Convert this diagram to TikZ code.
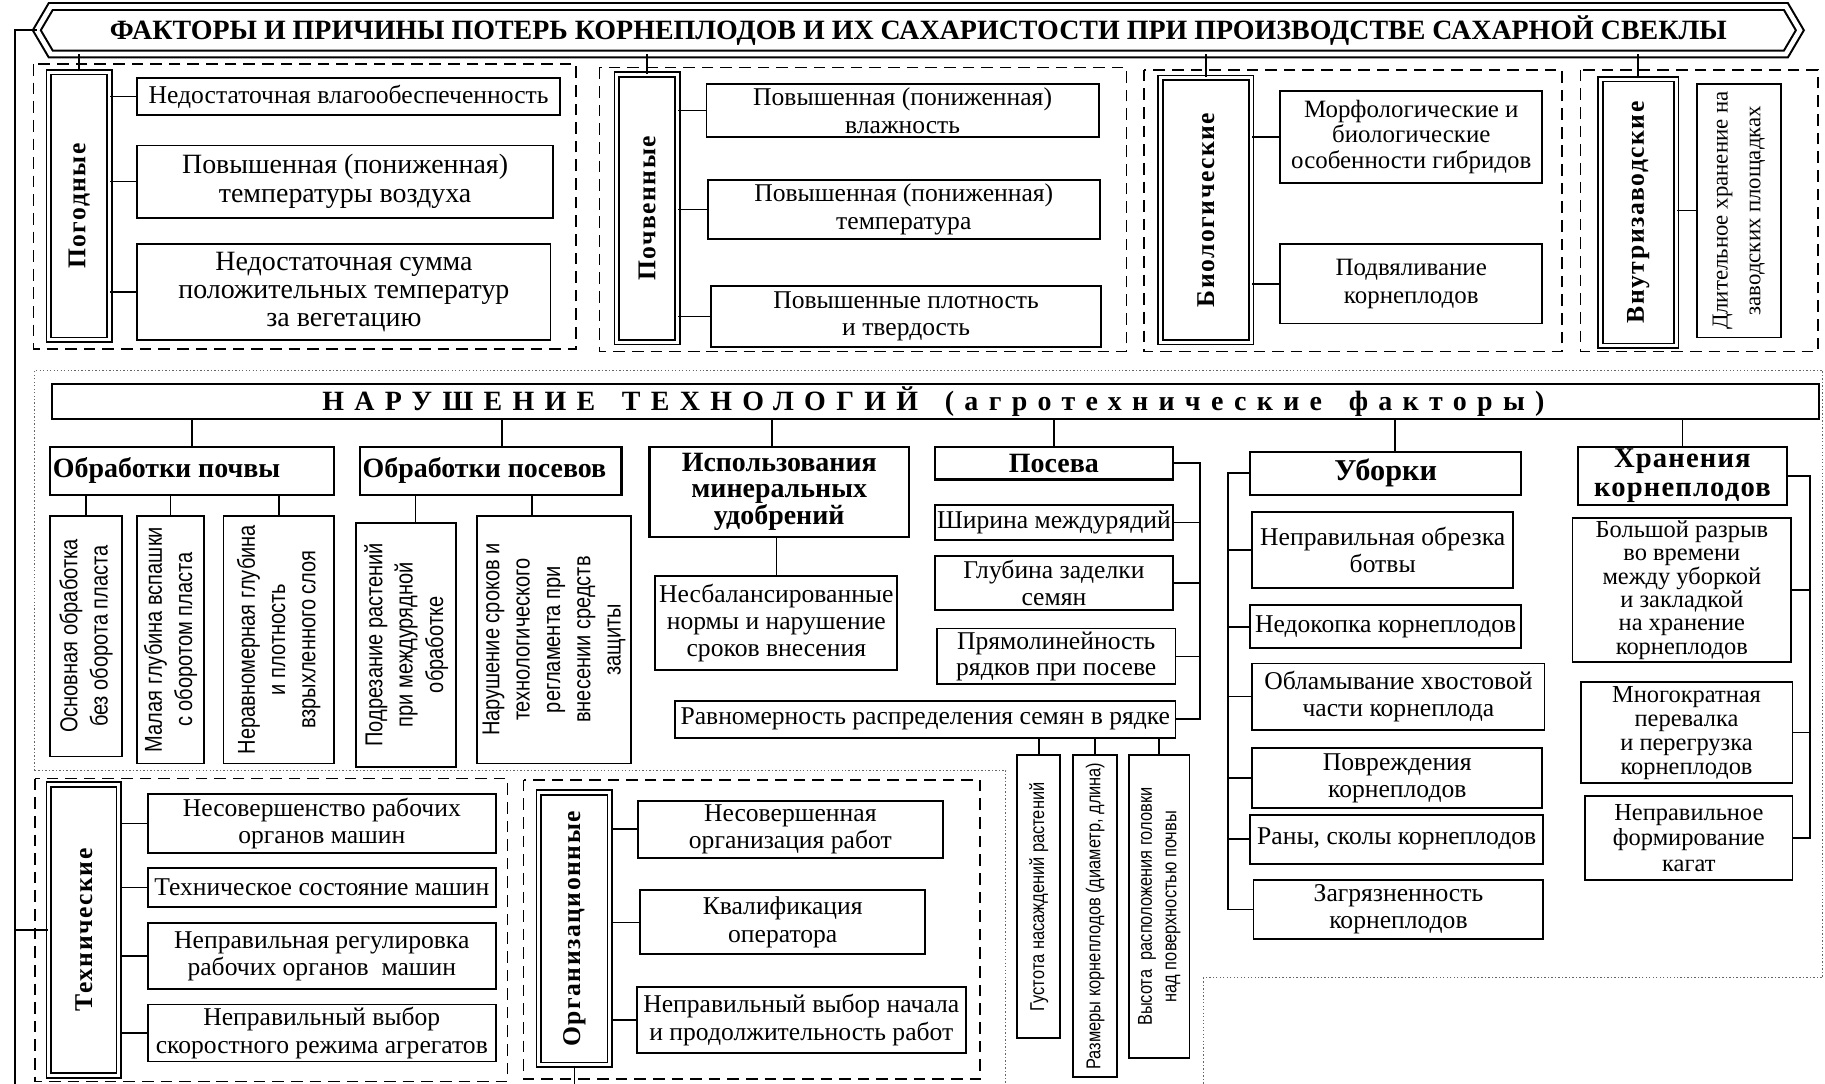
\documentclass[tikz,border=0pt]{standalone}
\usepackage{fontspec}
\setmainfont{Liberation Serif}
\newfontfamily\nsans[FakeStretch=0.82]{Liberation Sans}
\usetikzlibrary{fit}
\newcommand\fsz[2]{\fontsize{#1}{#2}\selectfont}
% box with centred text: name, corner1, corner2, text style, text
\newcommand\bx[5]{\node[box, fit={(#2) (#3)}] (#1) {};
  \node[txt, #4] (#1t) at (#1.center) {#5};}
\begin{document}
\begin{tikzpicture}[x=0.5pt,y=-0.5pt,
  box/.style={draw, line width=0.8pt, inner sep=0pt},
  txt/.style={inner sep=0pt, align=center, font=\fsz{11}{11.8}},
  lbl/.style={draw, double, double distance=1.3pt, line width=0.7pt, inner sep=0pt},
  vlbl/.style={rotate=90, inner sep=0pt, font=\bfseries\fsz{11}{12}\addfontfeature{LetterSpace=6}},
  grp/.style={draw, dash pattern=on 5pt off 3pt, line width=0.6pt},
  dotf/.style={draw=black!60, line width=0.5pt, dash pattern=on 0.6pt off 0.9pt},
  conn/.style={line width=0.7pt},
  cat/.style={draw, line width=0.9pt, inner sep=0pt},
  bt/.style={inner sep=0pt, align=center, font=\bfseries\fsz{12}{11.5}},
  rs/.style={rotate=90, align=center, font=\nsans\fsz{10.5}{13}},
  rh/.style={rotate=90, align=center, font=\nsans\fsz{8.6}{10.5}},
  emptyn/.style={inner sep=0pt}
]
\fill[white] (0,0) rectangle (1568,931);
\useasboundingbox (0,0) rectangle (1568,931);

% ---------- title ----------
\node[emptyn, fit={(32,6) (1546,46)}] (title) {};
\draw[double, double distance=2pt, line width=0.9pt]
  (title.west) -- ([xshift=6pt]title.north west) -- ([xshift=-6pt]title.north east)
  -- (title.east) -- ([xshift=-6pt]title.south east) -- ([xshift=6pt]title.south west) -- cycle;
\node[inner sep=0pt, font=\bfseries\fsz{12}{14}] (titlet) at (title.center) {ФАКТОРЫ И ПРИЧИНЫ ПОТЕРЬ КОРНЕПЛОДОВ И ИХ САХАРИСТОСТИ ПРИ ПРОИЗВОДСТВЕ САХАРНОЙ СВЕКЛЫ};

% ---------- top groups ----------
\draw[grp] (29,55) rectangle (495,300);
\draw[grp] (515,58) rectangle (968,302);
\draw[grp] (983,60) rectangle (1342,302);
\draw[grp] (1358,60) rectangle (1562,302);

\node[lbl, fit={(42,62) (94,292)}] (pog) {};
\node[vlbl] (pogt) at (pog) {Погодные};
\node[lbl, fit={(530,64) (582,294)}] (poch) {};
\node[vlbl] (poct) at (poch) {Почвенные};
\node[lbl, fit={(997,67) (1075,294)}] (bio) {};
\node[vlbl] (biot) at (bio) {Биологические};
\node[lbl, fit={(1375,68) (1440,297)}] (vnu) {};
\node[vlbl] (vnut) at (vnu) {Внутризаводские};

\bx{p1}{118,67}{481,99}{}{Недостаточная влагообеспеченность}
\bx{p2}{118,125}{475,187}{font=\fsz{12}{12.3}}{Повышенная (пониженная)\\температуры воздуха}
\bx{p3}{118,210}{473,292}{font=\fsz{12}{12}}{Недостаточная сумма\\положительных температур\\за вегетацию}

\bx{s1}{607,72}{944,118}{}{Повышенная (пониженная)\\влажность}
\bx{s2}{608,155}{945,205}{}{Повышенная (пониженная)\\температура}
\bx{s3}{611,246}{946,298}{}{Повышенные плотность\\и твердость}

\bx{b1}{1100,78}{1325,157}{font=\fsz{10.7}{11}}{Морфологические и\\биологические\\особенности гибридов}
\bx{b2}{1100,210}{1325,278}{font=\fsz{10.7}{12}}{Подвяливание\\корнеплодов}

\node[box, fit={(1458,72) (1530,290)}] (v1) {};
\node[rotate=90, inner sep=0pt, align=center, font=\fsz{9.8}{14}] (v1t) at (v1) {Длительное хранение на\\заводских площадках};

\foreach \n in {pog,poch,bio,vnu} \draw[conn] (\n.north) -- (\n.north |- title.south);
\foreach \n in {p1,p2,p3} \draw[conn] (\n.west) -- (\n.west -| pog.east);
\foreach \n in {s1,s2,s3} \draw[conn] (\n.west) -- (\n.west -| poch.east);
\foreach \n in {b1,b2} \draw[conn] (\n.west) -- (\n.west -| bio.east);
\draw[conn] (v1.west) -- (v1.west -| vnu.east);

% ---------- agro section ----------
\draw[dotf] (30,662) -- (30,318) -- (1566,318) -- (1566,840) -- (1034,840) -- (1034,931);
\draw[dotf] (30,662) -- (864,662) -- (864,931);

\node[draw, line width=0.9pt, inner sep=0pt, fit={(45,330) (1563,360)}] (hdr) {};
\node[inner sep=0pt, font=\bfseries\fsz{12}{12}\addfontfeature{LetterSpace=37}] (hdrt) at ([xshift=-1pt]hdr.center) {НАРУШЕНИЕ\hspace{4pt} ТЕХНОЛОГИЙ\hspace{4pt} (агротехнические\hspace{4pt} факторы)};

\node[cat, fit={(43,384) (287,425)}] (c1) {};
\node[bt, anchor=west] (c1t) at ([xshift=1.5pt]c1.west) {Обработки почвы};
\node[cat, fit={(309,384) (534,425)}] (c2) {};
\node[bt, anchor=west] (c2t) at ([xshift=1.5pt]c2.west) {Обработки посевов};
\node[cat, fit={(558,384) (781,461)}] (c3) {};
\node[bt, font=\bfseries\fsz{12}{11.3}] (c3t) at (c3) {Использования\\минеральных\\удобрений};
\node[cat, fit={(803,384) (1008,412)}] (c4) {};
\node[bt] (c4t) at (c4) {Посева};
\node[cat, fit={(1074,388) (1307,425)}] (c5) {};
\node[bt, font=\bfseries\fsz{13}{12}] (c5t) at (c5) {Уборки};
\node[cat, fit={(1356,384) (1535,434)}] (c6) {};
\node[bt, font=\bfseries\fsz{12.3}{12.5}\addfontfeature{LetterSpace=4}] (c6t) at (c6) {Хранения\\корнеплодов};

\draw[conn] (c1.north) -- (c1.north |- hdr.south);
\draw[conn] ([xshift=5pt]c2.north) -- ([xshift=5pt]c2.north |- hdr.south);
\draw[conn] ([xshift=-3pt]c3.north) -- ([xshift=-3pt]c3.north |- hdr.south);
\draw[conn] (c4.north) -- (c4.north |- hdr.south);
\draw[conn] ([xshift=4pt]c5.north) -- ([xshift=4pt]c5.north |- hdr.south);
\draw[conn] (c6.north) -- (c6.north |- hdr.south);

% Обработки почвы / посевов children
\node[box, fit={(43,443) (105,650)}] (a1) {};
\node[rs] (a1t) at (a1) {Основная обработка\\без оборота пласта};
\node[box, fit={(118,443) (175,656)}] (a2) {};
\node[rs] (a2t) at (a2) {Малая глубина вспашки\\с оборотом пласта};
\node[box, fit={(192,443) (287,656)}] (a3) {};
\node[rs] (a3t) at (a3) {Неравномерная глубина\\и плотность\\взрыхленного слоя};
\node[box, fit={(306,449) (392,659)}] (a4) {};
\node[rs] (a4t) at (a4) {Подрезание растений\\при междурядной\\обработке};
\node[box, fit={(410,443) (542,656)}] (a5) {};
\node[rs] (a5t) at (a5) {Нарушение сроков и\\технологического\\регламента при\\внесении средств\\защиты};
\foreach \n in {a1,a2,a3} \draw[conn] (\n.north) -- (\n.north |- c1.south);
\draw[conn] ([xshift=4pt]a4.north) -- ([xshift=4pt]a4.north |- c2.south);
\draw[conn] ([xshift=-9.5pt]a5.north) -- ([xshift=-9.5pt]a5.north |- c2.south);

% удобрения
\bx{f1}{563,495}{771,576}{font=\fsz{11}{11.5}}{Несбалансированные\\нормы и нарушение\\сроков внесения}
\draw[conn] (f1.north) -- (f1.north |- c3.south);

% Посева
\bx{g1}{803,434}{1008,464}{}{Ширина междурядий}
\bx{g2}{803,478}{1008,524}{font=\fsz{11}{11.5}}{Глубина заделки\\семян}
\bx{g3}{805,540}{1010,588}{font=\fsz{11}{11.5}}{Прямолинейность\\рядков при посеве}
\bx{g4}{580,602}{1010,634}{}{Равномерность распределения семян в рядке}
\coordinate (pb) at (1031,398);
\draw[conn] (c4.east) -| (g4.east -| pb) -- (g4.east);
\foreach \n in {g1,g2,g3} \draw[conn] (\n.east) -- (\n.east -| pb);

\node[box, fit={(874,649) (911,892)}] (h1) {};
\node[rh] (h1t) at (h1) {Густота насаждений растений};
\node[box, fit={(922,649) (960,925)}] (h2) {};
\node[rh] (h2t) at (h2) {Размеры корнеплодов (диаметр, длина)};
\node[box, fit={(970,649) (1022,909)}] (h3) {};
\node[rh] (h3t) at (h3) {Высота\ \ расположения головки\\над поверхностью почвы};
\foreach \n in {h1,h2,h3} \draw[conn] (\n.north) -- (\n.north |- g4.south);

% Уборки
\bx{u1}{1076,440}{1300,505}{font=\fsz{11}{11.5}}{Неправильная обрезка\\ботвы}
\bx{u2}{1074,520}{1307,557}{}{Недокопка корнеплодов}
\bx{u3}{1076,570}{1327,627}{font=\fsz{11}{11.5}}{Обламывание хвостовой\\части корнеплода}
\bx{u4}{1076,643}{1325,694}{font=\fsz{11}{11.5}}{Повреждения\\корнеплодов}
\bx{u5}{1074,700}{1326,742}{}{Раны, сколы корнеплодов}
\bx{u6}{1077,756}{1326,807}{font=\fsz{11}{11.5}}{Загрязненность\\корнеплодов}
\coordinate (ub) at (1055,406);
\draw[conn] (c5.west) -| (u6.west -| ub) -- (u6.west);
\foreach \n in {u1,u2,u3,u4,u5} \draw[conn] (\n.west) -- (\n.west -| ub);

% Хранения
\bx{k1}{1351,445}{1539,569}{font=\fsz{10.5}{10}}{Большой разрыв\\во времени\\между уборкой\\и закладкой\\на хранение\\корнеплодов}
\bx{k2}{1358,586}{1540,673}{font=\fsz{10.5}{10.3}}{Многократная\\перевалка\\и перегрузка\\корнеплодов}
\bx{k3}{1362,684}{1540,756}{font=\fsz{10.5}{11}}{Неправильное\\формирование\\кагат}
\coordinate (kb) at (1555,410);
\draw[conn] (c6.east) -| (k3.east -| kb) -- (k3.east);
\foreach \n in {k1,k2} \draw[conn] (\n.east) -- (\n.east -| kb);

% ---------- Технические ----------
\draw[grp] (30,669) rectangle (436,929);
\node[lbl, fit={(42,674) (102,924)}] (tech) {};
\node[vlbl] (techt) at (tech) {Технические};
\bx{t1}{127,682}{426,733}{}{Несовершенство рабочих\\органов машин}
\bx{t2}{127,746}{426,779}{}{Техническое состояние машин}
\bx{t3}{127,793}{426,850}{}{Неправильная регулировка\\рабочих органов\ \ машин}
\bx{t4}{127,863}{426,912}{}{Неправильный выбор\\скоростного режима агрегатов}
\foreach \n in {t1,t2,t3,t4} \draw[conn] (\n.west) -- (\n.west -| tech.east);

% ---------- Организационные ----------
\draw[grp] (450,670) rectangle (842,927);
\node[lbl, fit={(463,681) (524,915)}] (org) {};
\node[vlbl] (orgt) at (org) {Организационные};
\bx{o1}{548,688}{810,737}{}{Несовершенная\\организация работ}
\bx{o2}{550,765}{795,820}{}{Квалификация\\оператора}
\bx{o3}{547,848}{830,905}{}{Неправильный выбор начала\\и продолжительность работ}
\foreach \n in {o1,o2,o3} \draw[conn] (\n.west) -- (\n.west -| org.east);

% ---------- left trunk ----------
\coordinate (lb) at (13,931);
\draw[conn] (title.west) -| (lb);
\draw[conn] (tech.west) -- (tech.west -| lb);
\draw[conn] (org.south) -- (org.south |- lb);
\end{tikzpicture}
\end{document}
